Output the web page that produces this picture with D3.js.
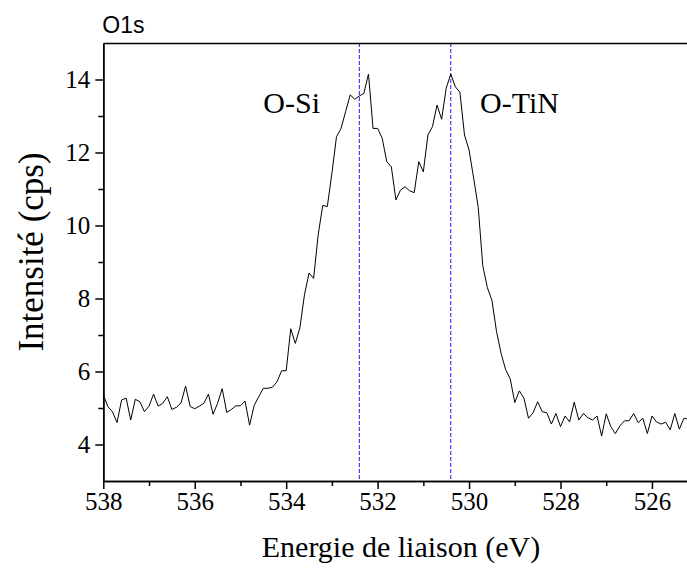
<!DOCTYPE html>
<html>
<head>
<meta charset="utf-8">
<script src="https://cdn.jsdelivr.net/npm/d3@7"></script>
<style>
  svg#chart text.serif { font-family: "Liberation Serif", "Times New Roman", Tinos, monospace !important; }
  svg#chart text.sans { font-family: "Liberation Sans", Arial, monospace !important; }
</style>
</head>
<body style="margin:0">
<svg id="chart" width="687" height="568"></svg>
<script>
// ---- data ----
const energyStart = 538.0;   // binding energy of the first sample (eV)
const energyStep = 0.1;      // sampling step (eV), decreasing
const intensity = [
  5.36, 5.04, 4.90, 4.60, 5.22, 5.27, 4.67, 5.24, 5.17, 4.90,
  5.05, 5.38, 5.05, 5.13, 5.31, 4.96, 5.02, 5.14, 5.60, 5.04,
  4.98, 5.05, 5.13, 5.38, 4.83, 5.13, 5.53, 4.88, 4.96, 5.06,
  5.06, 5.19, 4.53, 5.07, 5.31, 5.54, 5.54, 5.57, 5.72, 6.02,
  6.02,
  7.17, 6.77, 7.20, 8.10, 8.70, 8.55, 9.75, 10.55, 10.52, 11.43,
  12.43, 12.66, 13.12, 13.58, 13.46, 13.55, 13.62, 14.15, 12.66, 12.66,
  12.39, 11.75, 11.61, 10.70, 10.97, 11.06, 10.95, 10.90, 11.75, 11.47,
  12.48, 12.71, 13.30, 12.91, 13.76, 14.15, 13.80, 13.65, 12.48, 12.07,
  11.30, 10.50, 8.90, 8.30, 7.95, 7.10, 6.50, 6.05, 5.80,
  5.15, 5.47, 5.27, 4.72, 4.87, 5.17, 4.90, 4.87, 4.56, 4.85,
  4.49, 4.78, 4.62, 5.16, 4.67, 4.85, 4.73, 4.67, 4.78, 4.23,
  4.84, 4.49, 4.30, 4.51, 4.65, 4.65, 4.85, 4.60, 4.72, 4.30,
  4.78, 4.62, 4.56, 4.61, 4.40, 4.85, 4.42, 4.72, 4.69
];
const peakPositions = [532.4, 530.4];
const peakLabels = ["O-Si", "O-TiN"];
const peakLabelAnchor = [534.5, 529.76];
const peakLabelLevel = [13.07, 13.07];
const xMajorTicks = [538, 536, 534, 532, 530, 528, 526];
const xMinorTicks = [537, 535, 533, 531, 529, 527, 525];
const yMajorTicks = [4, 6, 8, 10, 12, 14];
const yMinorTicks = [5, 7, 9, 11, 13];
const xDomain = [538, 525];
const yDomain = [3, 15];
const chartTitle = "O1s";
const xTitle = "Energie de liaison (eV)";
const yTitle = "Intensité (cps)";

// ---- layout ----
const plotLeft = 103.3, plotTop = 43, plotBottom = 481;
const pxPerEV = 45.72;
const plotRight = plotLeft + pxPerEV * (xDomain[0] - xDomain[1]);

const svg = d3.select("#chart");
const x = d3.scaleLinear().domain(xDomain).range([plotLeft, plotRight]);
const y = d3.scaleLinear().domain(yDomain).range([plotBottom, plotTop]);

const SERIF = `"Liberation Serif", "Times New Roman", Tinos, monospace`;
const SANS = `"Liberation Sans", Arial, monospace`;

const data = intensity.map((v, i) => ({ e: energyStart - i * energyStep, v }));

// dashed peak lines
svg.append("g").selectAll("line").data(peakPositions).join("line")
  .attr("x1", d => x(d)).attr("x2", d => x(d))
  .attr("y1", y(yDomain[1])).attr("y2", y(yDomain[0]))
  .attr("stroke", "#1a1aff").attr("stroke-width", 1)
  .attr("stroke-dasharray", "4,2");

// data line
svg.append("path").datum(data)
  .attr("fill", "none").attr("stroke", "#000").attr("stroke-width", 1)
  .attr("stroke-linejoin", "miter")
  .attr("d", d3.line().x(d => x(d.e)).y(d => y(d.v)));

// axes
const xAxis = d3.axisBottom(x).tickValues(xMajorTicks).tickFormat(d3.format("d"))
  .tickSize(8).tickPadding(3).tickSizeOuter(0);
const xAxisMinor = d3.axisBottom(x).tickValues(xMinorTicks).tickFormat("")
  .tickSize(5).tickSizeOuter(0);
const yAxis = d3.axisLeft(y).tickValues(yMajorTicks).tickFormat(d3.format("d"))
  .tickSize(8).tickPadding(5).tickSizeOuter(0);
const yAxisMinor = d3.axisLeft(y).tickValues(yMinorTicks).tickFormat("")
  .tickSize(5).tickSizeOuter(0);
const xTopAxis = d3.axisTop(x).tickValues([]).tickSizeOuter(0);

function styleAxis(g) {
  g.attr("font-family", SERIF).attr("font-size", 25);
  g.select(".domain").attr("stroke", "#000").attr("stroke-width", 1.5);
  g.selectAll(".tick line").attr("stroke", "#000").attr("stroke-width", 1.5);
  g.selectAll(".tick text").attr("fill", "#000").attr("class", "serif")
    .attr("font-family", SERIF)
    .style("font-family", SERIF).style("font-size", "25px");
}

svg.append("g").attr("transform", `translate(0,${plotBottom})`)
  .call(xAxis).call(styleAxis);
svg.append("g").attr("transform", `translate(0,${plotBottom})`)
  .call(xAxisMinor).call(styleAxis);
svg.append("g").attr("transform", `translate(${plotLeft},0)`)
  .call(yAxis).call(styleAxis);
svg.append("g").attr("transform", `translate(${plotLeft},0)`)
  .call(yAxisMinor).call(styleAxis);
svg.append("g").attr("transform", `translate(0,${plotTop})`)
  .call(xTopAxis).call(styleAxis);

// peak labels
svg.append("g").selectAll("text").data(peakLabels).join("text")
  .attr("class", "serif")
  .attr("x", (d, i) => x(peakLabelAnchor[i]))
  .attr("y", (d, i) => y(peakLabelLevel[i]))
  .attr("font-family", SERIF)
  .style("font-family", SERIF).style("font-size", "30px")
  .text(d => d);

// titles
svg.append("text").attr("class", "sans")
  .attr("x", plotLeft - 1).attr("y", 33)
  .attr("font-family", SANS)
  .style("font-family", SANS).style("font-size", "23px")
  .text(chartTitle);

svg.append("text").attr("class", "serif")
  .attr("x", 401).attr("y", 557).attr("text-anchor", "middle")
  .attr("font-family", SERIF)
  .style("font-family", SERIF).style("font-size", "30px").text(xTitle);

svg.append("text").attr("class", "serif")
  .attr("transform", "translate(43,252) rotate(-90)")
  .attr("text-anchor", "middle")
  .attr("font-family", SERIF)
  .style("font-family", SERIF).style("font-size", "35px").text(yTitle);
</script>
</body>
</html>
